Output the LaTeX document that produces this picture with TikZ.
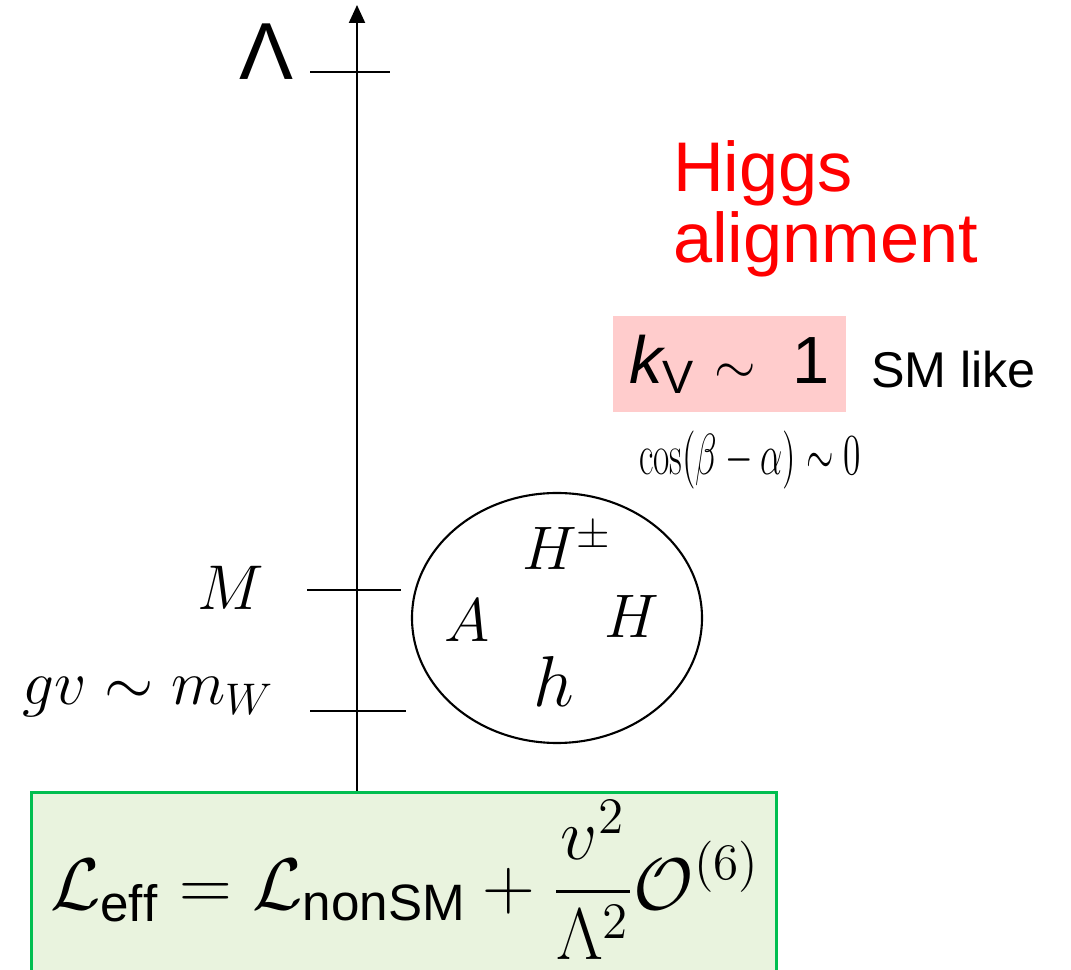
\RequirePackage{fix-cm}
\documentclass[tikz,border=0pt]{standalone}
\usepackage{amsmath}
\usepackage{fontspec}
\setsansfont{Liberation Sans}
\usepackage{graphicx}
\usepackage{tikz}
\usetikzlibrary{positioning,shapes,arrows.meta,calc}
\usepackage{xcolor}
\definecolor{kvpink}{RGB}{255,204,204}
\definecolor{efffill}{RGB}{233,243,222}
\definecolor{effline}{RGB}{0,190,80}

\begin{document}
\begin{tikzpicture}[line width=0.6pt, every node/.style={inner sep=0pt},
  redtext/.style={anchor=base west, text=red, font=\sffamily\fontsize{20}{22}\selectfont}]
\useasboundingbox (0,0) rectangle (10.71,9.70);
% effective lagrangian
\node[draw=effline, line width=0.8pt, fill=efffill, minimum width=7.45cm, minimum height=2.1cm, anchor=north west] (effbox) at (0.30,1.79) {};
\node (leff) at (4.05,0.90) {\fontsize{20.8}{24}\selectfont $\displaystyle \mathcal{L}_{\mathsf{eff}} = \mathcal{L}_{\mathsf{nonSM}} + \frac{v^2}{\Lambda^2}\mathcal{O}^{(6)}$};
% energy axis
\coordinate (top) at (3.57,9.65);
\draw[-{Triangle[width=1.6mm,length=1.8mm]}] (effbox.north -| top) -- (top);
\coordinate (lamL) at (3.10,8.98);
\coordinate (lamR) at (3.90,8.98);
\coordinate (mL) at (3.07,3.80);
\coordinate (mR) at (4.01,3.80);
\coordinate (wL) at (3.10,2.59);
\coordinate (wR) at (4.06,2.59);
\draw (lamL) -- (lamR);
\draw (mL) -- (mR);
\draw (wL) -- (wR);
\node[anchor=base] (lam) at (2.66,8.90) {\fontsize{23}{26}\selectfont\sffamily Λ};
\node[anchor=base east] (mscale) at (2.65,3.60) {\fontsize{18}{20}\selectfont $M$};
\node[anchor=base east] (gvscale) at (2.75,2.65) {\fontsize{18}{20}\selectfont $gv\sim m_W$};
% heavy higgs states
\node[draw, ellipse, minimum width=2.9cm, minimum height=2.5cm] (bosons) at (5.57,3.52) {};
\node[anchor=base] (Hpm) at (5.67,4.00) {\fontsize{17.5}{20}\selectfont $H^{\pm}$};
\node[anchor=base] (A) at (4.67,3.28) {\fontsize{17.5}{20}\selectfont $A$};
\node[anchor=base] (H) at (6.32,3.32) {\fontsize{17.5}{20}\selectfont $H$};
\node[anchor=base] (h) at (5.54,2.63) {\fontsize{20.5}{22}\selectfont $h$};
% alignment
\node[redtext] (higgs) at (6.72,7.78) {Higgs};
\node[redtext] (alignment) at (6.72,7.07) {alignment};
\node[fill=kvpink, minimum width=2.33cm, minimum height=0.96cm] (kv) at (7.295,6.06) {\fontsize{19}{22}\selectfont\sffamily\itshape k\textsubscript{\upshape V} \upshape\scalebox{0.8}{$\sim$}\ \ 1};
\node[anchor=base west, font=\sffamily\fontsize{14.3}{16}\selectfont] (smlike) at (8.70,5.82) {SM like};
\node[anchor=base] (cosba) at (7.50,4.95) {\fontsize{16.5}{18}\selectfont\scalebox{0.61}[1]{$\cos(\beta-\alpha)\sim 0$}};
\end{tikzpicture}
\end{document}
